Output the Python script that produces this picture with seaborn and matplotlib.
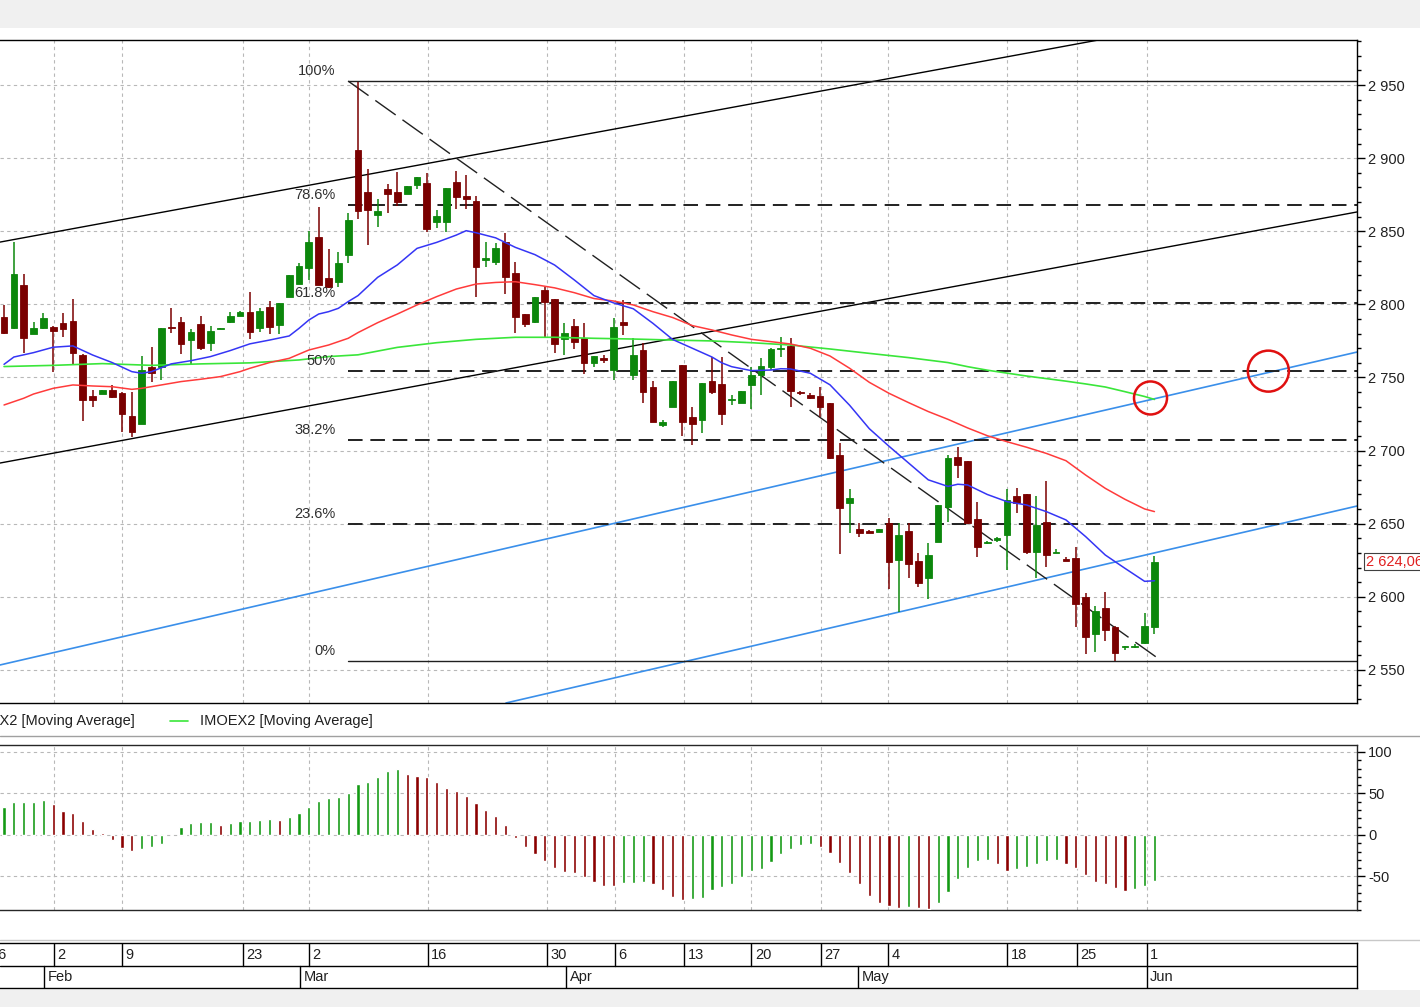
import numpy as np
import pandas as pd
import matplotlib
matplotlib.use("Agg")
import matplotlib.pyplot as plt
import seaborn as sns
from matplotlib.patches import Ellipse, Rectangle
from matplotlib.lines import Line2D
from matplotlib.ticker import FuncFormatter, MultipleLocator, FixedLocator
import matplotlib.transforms as mtransforms

# ---------------- data ----------------
opens = [2791.2, 2784.1, 2813.5, 2779.8, 2783.9, 2784.8, 2787.1, 2788.9, 2765.6, 2737.6,
         2739.0, 2741.5, 2739.4, 2723.9, 2718.2, 2757.2, 2757.4, 2784.8, 2788.0, 2775.7,
         2786.4, 2773.4, 2783.4, 2787.7, 2792.1, 2795.0, 2784.1, 2798.4, 2785.7, 2805.3,
         2814.0, 2825.1, 2845.9, 2817.8, 2815.5, 2833.8, 2905.6, 2876.9, 2861.1, 2878.7,
         2876.9, 2875.5, 2881.6, 2882.8, 2856.1, 2856.6, 2883.7, 2874.3, 2870.9, 2830.3,
         2829.2, 2842.9, 2821.2, 2793.2, 2788.2, 2809.8, 2803.5, 2776.3, 2785.2, 2776.8,
         2760.2, 2763.1, 2755.1, 2788.2, 2751.7, 2768.8, 2743.3, 2717.5, 2730.1, 2758.6,
         2722.8, 2720.9, 2747.6, 2745.6, 2734.6, 2732.8, 2744.9, 2751.7, 2757.4, 2769.3,
         2771.6, 2739.9, 2738.1, 2737.4, 2732.4, 2697.0, 2664.4, 2646.4, 2645.0, 2644.6,
         2650.3, 2625.2, 2645.1, 2624.6, 2612.7, 2637.8, 2661.7, 2695.4, 2692.9, 2653.0,
         2637.0, 2638.9, 2642.3, 2669.0, 2670.1, 2630.9, 2651.0, 2630.3, 2625.7, 2626.4,
         2599.7, 2574.6, 2592.2, 2579.6, 2565.5, 2565.5, 2568.2, 2579.6]
highs = [2799.4, 2842.7, 2820.6, 2787.7, 2793.9, 2785.0, 2793.9, 2803.5, 2766.0, 2741.5,
         2741.5, 2744.9, 2740.0, 2739.9, 2764.7, 2771.1, 2783.6, 2797.3, 2791.2, 2783.0,
         2792.1, 2785.5, 2784.0, 2794.8, 2795.5, 2808.7, 2797.3, 2802.3, 2800.7, 2820.3,
         2828.1, 2850.4, 2866.4, 2837.6, 2835.8, 2862.3, 2952.3, 2892.3, 2871.8, 2882.3,
         2890.3, 2881.0, 2887.3, 2889.6, 2864.5, 2879.4, 2891.4, 2888.5, 2874.1, 2842.9,
         2841.7, 2848.6, 2829.2, 2793.5, 2804.8, 2812.1, 2803.8, 2787.0, 2789.8, 2787.0,
         2764.7, 2765.4, 2790.5, 2803.0, 2776.8, 2773.4, 2747.8, 2721.0, 2747.6, 2758.8,
         2729.6, 2746.5, 2764.3, 2764.3, 2738.1, 2740.8, 2757.4, 2763.1, 2770.0, 2777.9,
         2776.8, 2741.0, 2739.2, 2743.3, 2732.6, 2705.0, 2673.6, 2650.3, 2645.5, 2646.6,
         2654.2, 2650.8, 2650.8, 2630.3, 2636.6, 2663.1, 2697.0, 2702.7, 2693.1, 2665.1,
         2638.5, 2640.7, 2673.5, 2674.2, 2670.3, 2669.0, 2679.5, 2632.7, 2627.5, 2633.9,
         2602.4, 2593.8, 2603.1, 2579.8, 2566.6, 2567.5, 2589.2, 2627.9]
lows = [2779.5, 2783.5, 2767.0, 2779.5, 2783.2, 2753.8, 2778.0, 2758.6, 2720.5, 2730.1,
        2739.0, 2736.0, 2713.0, 2709.1, 2718.0, 2747.2, 2748.3, 2780.7, 2766.1, 2758.6,
        2769.0, 2768.4, 2783.2, 2787.0, 2792.0, 2776.1, 2781.3, 2779.5, 2779.5, 2805.0,
        2813.9, 2816.7, 2813.0, 2811.5, 2812.1, 2828.5, 2858.2, 2840.6, 2852.7, 2862.7,
        2867.3, 2875.3, 2878.7, 2849.7, 2852.0, 2849.7, 2865.0, 2865.0, 2805.3, 2825.8,
        2826.9, 2807.1, 2780.7, 2784.8, 2787.0, 2776.8, 2767.0, 2765.4, 2769.3, 2752.4,
        2757.4, 2760.2, 2748.3, 2779.1, 2748.3, 2732.8, 2719.8, 2715.9, 2729.9, 2710.0,
        2703.9, 2711.8, 2738.5, 2717.5, 2731.2, 2732.6, 2728.5, 2738.0, 2755.1, 2764.3,
        2730.1, 2738.0, 2735.3, 2723.2, 2694.0, 2629.4, 2643.9, 2641.2, 2643.5, 2644.4,
        2605.2, 2589.9, 2612.7, 2607.0, 2598.4, 2637.6, 2651.5, 2681.1, 2650.1, 2627.5,
        2636.0, 2637.5, 2618.4, 2657.6, 2629.3, 2612.7, 2620.6, 2630.1, 2624.3, 2579.6,
        2560.9, 2562.5, 2570.1, 2556.4, 2563.7, 2565.3, 2568.0, 2574.6]
closes = [2780.7, 2820.6, 2777.3, 2783.6, 2790.5, 2781.6, 2783.4, 2767.0, 2734.4, 2734.4,
          2741.5, 2736.9, 2725.1, 2713.0, 2755.1, 2753.3, 2783.6, 2784.1, 2772.9, 2780.9,
          2770.4, 2782.1, 2783.8, 2792.1, 2794.8, 2781.3, 2795.7, 2784.8, 2800.7, 2820.3,
          2826.3, 2842.4, 2813.3, 2812.1, 2828.5, 2857.7, 2864.1, 2864.5, 2864.1, 2875.5,
          2870.2, 2881.0, 2886.9, 2851.3, 2860.7, 2879.4, 2873.2, 2872.3, 2825.8, 2831.5,
          2838.3, 2819.0, 2791.6, 2786.4, 2804.8, 2801.9, 2772.9, 2780.2, 2774.1, 2760.2,
          2764.7, 2762.0, 2784.3, 2785.9, 2765.6, 2740.3, 2719.8, 2719.6, 2747.6, 2719.8,
          2718.2, 2746.5, 2740.3, 2724.8, 2735.1, 2740.8, 2751.7, 2757.9, 2769.3, 2770.0,
          2740.8, 2739.2, 2735.8, 2730.1, 2694.7, 2661.0, 2667.4, 2643.9, 2643.9, 2646.4,
          2624.1, 2642.3, 2622.5, 2609.3, 2628.7, 2662.9, 2694.7, 2690.2, 2650.3, 2634.3,
          2637.3, 2640.0, 2666.2, 2664.4, 2630.9, 2649.1, 2628.6, 2630.7, 2624.5, 2595.1,
          2572.8, 2590.3, 2577.4, 2561.9, 2566.4, 2566.6, 2580.1, 2624.06]

ma_fast_idx = [0, 1, 3, 5, 7, 9, 11, 13, 14, 15, 17, 19, 21, 23, 25, 27, 29, 30, 31, 32, 33, 34,
               35, 36, 38, 40, 42, 44, 46, 47, 48, 50, 52, 54, 56, 58, 60, 62, 64, 66, 68, 70,
               72, 73, 74, 76, 78, 79, 80, 82, 84, 86, 88, 90, 92, 94, 96, 97, 98, 100, 102,
               104, 106, 108, 110, 112, 114, 116, 117]
ma_fast = [2759.0, 2764.0, 2767.0, 2770.7, 2771.6, 2765.4, 2760.2, 2754.0, 2752.9, 2754.0,
           2759.3, 2761.5, 2764.3, 2768.4, 2773.0, 2775.6, 2778.4, 2783.6, 2789.3, 2793.4,
           2795.0, 2797.3, 2801.9, 2806.0, 2818.5, 2827.0, 2838.3, 2842.4, 2847.4, 2850.4,
           2849.0, 2845.5, 2839.0, 2834.0, 2826.9, 2816.7, 2806.0, 2801.0, 2797.0, 2787.0,
           2776.0, 2770.0, 2764.0, 2760.0, 2757.4, 2754.7, 2755.1, 2756.0, 2755.8, 2752.9,
           2745.0, 2731.0, 2715.0, 2703.0, 2691.5, 2680.0, 2675.5, 2677.0, 2676.5, 2670.0,
           2665.1, 2662.8, 2658.3, 2652.6, 2641.2, 2628.6, 2619.5, 2610.6, 2611.0]

ma_mid_idx = [0, 2, 3, 5, 7, 9, 11, 13, 14, 16, 18, 20, 22, 24, 25, 27, 29, 31, 33, 35, 36, 38,
              40, 42, 44, 46, 48, 50, 52, 54, 56, 58, 60, 62, 64, 66, 68, 70, 72, 74, 76, 78,
              80, 82, 84, 86, 88, 90, 92, 94, 96, 98, 100, 102, 104, 106, 108, 110, 112, 114,
              116, 117]
ma_mid = [2731.2, 2735.8, 2738.7, 2742.6, 2744.9, 2744.2, 2743.7, 2741.9, 2742.6, 2744.9,
          2747.2, 2748.8, 2750.6, 2754.0, 2756.3, 2760.2, 2763.1, 2768.8, 2772.2, 2776.8,
          2780.7, 2787.5, 2793.4, 2799.6, 2805.3, 2810.5, 2813.9, 2815.0, 2815.5, 2813.5,
          2811.3, 2808.0, 2804.0, 2802.3, 2799.6, 2795.0, 2791.0, 2785.5, 2782.5, 2779.1,
          2776.1, 2774.5, 2772.9, 2770.0, 2764.7, 2756.3, 2746.7, 2739.2, 2732.8, 2726.7,
          2721.4, 2715.5, 2710.2, 2706.1, 2702.3, 2698.1, 2693.1, 2683.3, 2674.2, 2666.7,
          2660.1, 2658.3]

ma_slow_idx = [0, 5, 10, 15, 20, 25, 30, 33, 36, 40, 44, 48, 52, 56, 60, 64, 68, 72, 76, 80,
               84, 88, 92, 96, 98, 100, 104, 108, 110, 112, 114, 116, 117]
ma_slow = [2757.5, 2758.3, 2759.5, 2758.3, 2759.3, 2760.0, 2762.0, 2764.3, 2765.5, 2770.6,
           2773.8, 2776.1, 2777.5, 2777.5, 2776.8, 2776.3, 2775.6, 2775.0, 2773.8, 2772.2,
           2769.5, 2766.5, 2763.6, 2760.2, 2757.4, 2755.0, 2751.0, 2747.5, 2745.6, 2743.5,
           2740.3, 2737.0, 2735.0]

osc = [33.3, 39.4, 39.6, 39.8, 42.2, 36.9, 28.9, 26.1, 17.3, 6.8,
       2.0, -6.0, -16.1, -18.9, -17.3, -14.9, -11.2, 0.0, 9.2, 14.1,
       15.7, 15.9, 12.4, 14.1, 16.9, 17.3, 18.5, 18.9, 18.5, 21.3,
       26.1, 33.3, 41.0, 44.2, 45.4, 50.2, 61.0, 63.5, 69.5, 77.1,
       79.9, 73.1, 71.5, 69.5, 63.5, 56.2, 53.0, 47.0, 38.2, 30.5,
       22.9, 12.4, -3.2, -14.1, -23.3, -30.9, -39.4, -45.0, -46.2, -50.2,
       -56.2, -61.0, -62.0, -58.2, -58.0, -56.6, -59.4, -66.3, -74.3, -78.0,
       -77.0, -76.3, -65.9, -62.7, -58.6, -50.6, -43.4, -40.6, -32.5, -22.5,
       -16.5, -11.6, -11.2, -14.1, -22.1, -34.1, -46.2, -59.0, -73.5, -82.3,
       -85.1, -88.4, -86.3, -88.4, -88.8, -82.3, -68.3, -53.4, -40.2, -30.9,
       -30.5, -35.3, -43.0, -41.4, -38.2, -35.0, -31.0, -30.5, -35.3, -40.2,
       -48.2, -56.2, -59.4, -64.3, -67.1, -65.5, -61.0, -55.0]

fib_high = 2952.7
fib_low = 2556.0
fib_start = 35.0
fib_levels = [1.0, 0.786, 0.618, 0.5, 0.382, 0.236, 0.0]
fib_labels = ["100%", "78.6%", "61.8%", "50%", "38.2%", "23.6%", "0%"]

black_channel_top = [(-0.41, 2842.6), (111.3, 2980.8)]
black_channel_bot = [(-0.41, 2691.5), (137.6, 2863.2)]
blue_channel_top = [(-0.41, 2553.4), (137.6, 2767.4)]
blue_channel_bot = [(51.5, 2528.1), (137.6, 2662.1)]
diag_line = [(35.0, 2952.7), (117.6, 2556.8)]

day_idx = [-1.8, 5.1, 12.0, 24.3, 31.0, 43.1, 55.2, 62.1, 69.2, 76.0, 83.1, 89.9, 102.0, 109.1, 116.2]
day_labels = ["26", "2", "9", "23", "2", "16", "30", "6", "13", "20", "27", "4", "18", "25", "1"]
month_idx = [4.1, 30.1, 57.2, 86.9, 116.2]
month_labels = ["Feb", "Mar", "Apr", "May", "Jun"]

last_price_label = "2 624,06"

# ---------------- style ----------------
sns.set_theme(style="white")
plt.rcParams["font.family"] = ["Liberation Sans", "DejaVu Sans"]
plt.rcParams["axes.linewidth"] = 1.0

W, H = 1420, 1007
fig = plt.figure(figsize=(W / 100, H / 100), dpi=100)
fig.patch.set_facecolor("white")

def fr(x0, y0, x1, y1):
    return [x0 / W, 1 - y1 / H, (x1 - x0) / W, (y1 - y0) / H]

# background bands
fig.add_artist(Rectangle((0, 1 - 28 / H), 1, 28 / H, transform=fig.transFigure,
                         facecolor="#f0f0f0", edgecolor="none", zorder=0))
fig.add_artist(Rectangle((0, 0), 1, 17 / H, transform=fig.transFigure,
                         facecolor="#f0f0f0", edgecolor="none", zorder=0))
fig.add_artist(Line2D([0, 1], [1 - 736 / H] * 2, transform=fig.transFigure, color="#a0a0a0", lw=1))
fig.add_artist(Line2D([0, 1], [1 - 940 / H] * 2, transform=fig.transFigure, color="#c8c8c8", lw=1))

XL = (-0.41, 137.6)
grid_kw = dict(color="#b8b8b8", linestyle=(0, (3, 3)), linewidth=0.8)
TXT = "#202020"
RED_C = "#7a0000"
GRN_C = "#0c870c"

# ---------------- main price panel ----------------
ax = fig.add_axes(fr(0, 40, 1357, 703))
ax.set_xlim(*XL)
ax.set_ylim(2527.4, 2980.8)
ax.set_facecolor("white")
for s in ["left"]:
    ax.spines[s].set_visible(False)
for s in ["top", "right", "bottom"]:
    ax.spines[s].set_color("black")

ax.set_xticks([d for d in day_idx if d > 0])
ax.tick_params(axis="x", length=0, labelbottom=False)
ax.yaxis.tick_right()
ax.yaxis.set_major_locator(FixedLocator(np.arange(2550, 2951, 50)))
ax.yaxis.set_minor_locator(MultipleLocator(10))
ax.yaxis.set_major_formatter(FuncFormatter(lambda v, p: f"{int(round(v)):,}".replace(",", " ")))
ax.tick_params(axis="y", which="major", length=6, width=1, color="black", labelsize=10.5,
               labelcolor=TXT, pad=2, right=True, left=False)
ax.tick_params(axis="y", which="minor", length=3, width=1, color="black", right=True, left=False)
ax.grid(True, which="major", **grid_kw)

# candles
df = pd.DataFrame({"o": opens, "h": highs, "l": lows, "c": closes})
df["i"] = np.arange(len(df))
df["up"] = df["c"] > df["o"]
colors = np.where(df["up"], GRN_C, RED_C)
ax.vlines(df["i"], df["l"], df["h"], colors=colors, linewidth=1.1, zorder=3)
body_bottom = np.minimum(df["o"], df["c"])
body_h = np.maximum((df["c"] - df["o"]).abs(), 0.7)
ax.bar(df["i"], body_h, bottom=body_bottom, width=0.68, color=colors, edgecolor=colors,
       linewidth=0.6, zorder=4)

# moving averages
sns.lineplot(x=ma_slow_idx, y=ma_slow, ax=ax, color="#3ae63a", linewidth=1.2, zorder=5,
             estimator=None, sort=False)
sns.lineplot(x=ma_mid_idx, y=ma_mid, ax=ax, color="#ff3b3b", linewidth=1.1, zorder=5,
             estimator=None, sort=False)
sns.lineplot(x=ma_fast_idx, y=ma_fast, ax=ax, color="#3535f5", linewidth=1.1, zorder=5,
             estimator=None, sort=False)

# channels
ax.axline(black_channel_top[0], black_channel_top[1], color="black", lw=1.0, zorder=2)
ax.axline(black_channel_bot[0], black_channel_bot[1], color="black", lw=1.0, zorder=2)
ax.axline(blue_channel_top[0], blue_channel_top[1], color="#3a8fea", lw=1.2, zorder=2)
ax.axline(blue_channel_bot[0], blue_channel_bot[1], color="#3a8fea", lw=1.2, zorder=2)
ax.plot([p[0] for p in diag_line], [p[1] for p in diag_line], color="#202020", lw=1.0,
        dashes=(18, 6), zorder=2)

# fibonacci
for lev, lab in zip(fib_levels, fib_labels):
    price = fib_low + (fib_high - fib_low) * lev
    if lev in (0.0, 1.0):
        ax.plot([fib_start, XL[1]], [price, price], color="#202020", lw=1.0, zorder=2)
    else:
        ax.plot([fib_start, XL[1]], [price, price], color="#202020", lw=1.4,
                dashes=(7.5, 4), zorder=2)
    ax.annotate(lab, xy=(fib_start, price), xytext=(-9, 2), textcoords="offset points",
                ha="right", va="bottom", fontsize=10.5, color="#303030", zorder=6)

# red circles: end of slow MA, and upper blue channel x 50% level
(x1, y1), (x2, y2) = blue_channel_top
lvl50 = fib_low + (fib_high - fib_low) * 0.5
xc2 = x1 + (lvl50 - y1) * (x2 - x1) / (y2 - y1)
px_x = 1357 / (XL[1] - XL[0])
px_y = 663 / (2980.8 - 2527.4)
for (cx, cy, r) in [(ma_slow_idx[-1] - 0.4, ma_slow[-1] + 1.0, 16.5), (xc2 - 0.6, lvl50, 20.5)]:
    ax.add_patch(Ellipse((cx, cy), 2 * r / px_x, 2 * r / px_y, fill=False,
                         edgecolor="#e01010", lw=1.8, zorder=7))

# last price box
trans = mtransforms.blended_transform_factory(ax.transAxes, ax.transData)
ax.text(1.0063, closes[-1], last_price_label, transform=trans, color="#e02020", fontsize=10.5,
        va="center", ha="left",
        bbox=dict(boxstyle="square,pad=0.12", facecolor="white", edgecolor="#404040", lw=0.8),
        clip_on=False)

# legend strip
ly = 1 - 721 / H
fig.text(-38 / W, ly, "IMOEX2 [Moving Average]", fontsize=10.5, color=TXT, va="center")
fig.add_artist(Line2D([170 / W, 188 / W], [ly, ly], transform=fig.transFigure,
                      color="#3ae63a", lw=1.2))
fig.text(200 / W, ly, "IMOEX2 [Moving Average]", fontsize=10.5, color=TXT, va="center")

# ---------------- oscillator panel ----------------
ax2 = fig.add_axes(fr(0, 745, 1357, 910))
ax2.set_xlim(*XL)
ax2.set_ylim(-90.4, 108.4)
ax2.spines["left"].set_visible(False)
ax2.set_xticks([d for d in day_idx if d > 0])
ax2.tick_params(axis="x", length=0, labelbottom=False)
ax2.yaxis.tick_right()
ax2.yaxis.set_major_locator(FixedLocator([-50, 0, 50, 100]))
ax2.yaxis.set_minor_locator(MultipleLocator(10))
ax2.yaxis.set_major_formatter(FuncFormatter(lambda v, p: f"{int(v)}"))
ax2.tick_params(axis="y", which="major", length=6, width=1, color="black", labelsize=10.5,
                labelcolor=TXT, pad=2, right=True, left=False)
ax2.tick_params(axis="y", which="minor", length=3, width=1, color="black", right=True, left=False)
ax2.grid(True, which="major", **grid_kw)

osc_s = pd.Series(osc)
osc_col = np.where(osc_s.diff().fillna(1) >= 0, "#139a13", "#8b0000")
ax2.bar(np.arange(len(osc)), osc, width=0.32, color=osc_col, zorder=3)

# ---------------- date axis ----------------
ax3 = fig.add_axes(fr(0, 943, 1357, 988))
ax3.set_xlim(*XL)
ax3.set_ylim(0, 2)
ax3.set_xticks([])
ax3.set_yticks([])
ax3.spines["left"].set_visible(False)
for s in ["top", "bottom", "right"]:
    ax3.spines[s].set_color("black")
ax3.axhline(1, color="black", lw=1)
for d, lab in zip(day_idx, day_labels):
    ax3.plot([d, d], [1, 2], color="black", lw=1, clip_on=True)
    ax3.text(d + 0.35, 1.48, lab, fontsize=10.5, color=TXT, va="center", ha="left", clip_on=True)
for m, lab in zip(month_idx, month_labels):
    ax3.plot([m, m], [0, 1], color="black", lw=1, clip_on=True)
    ax3.text(m + 0.35, 0.48, lab, fontsize=10.5, color=TXT, va="center", ha="left", clip_on=True)

fig.savefig("out.png", dpi=100)
